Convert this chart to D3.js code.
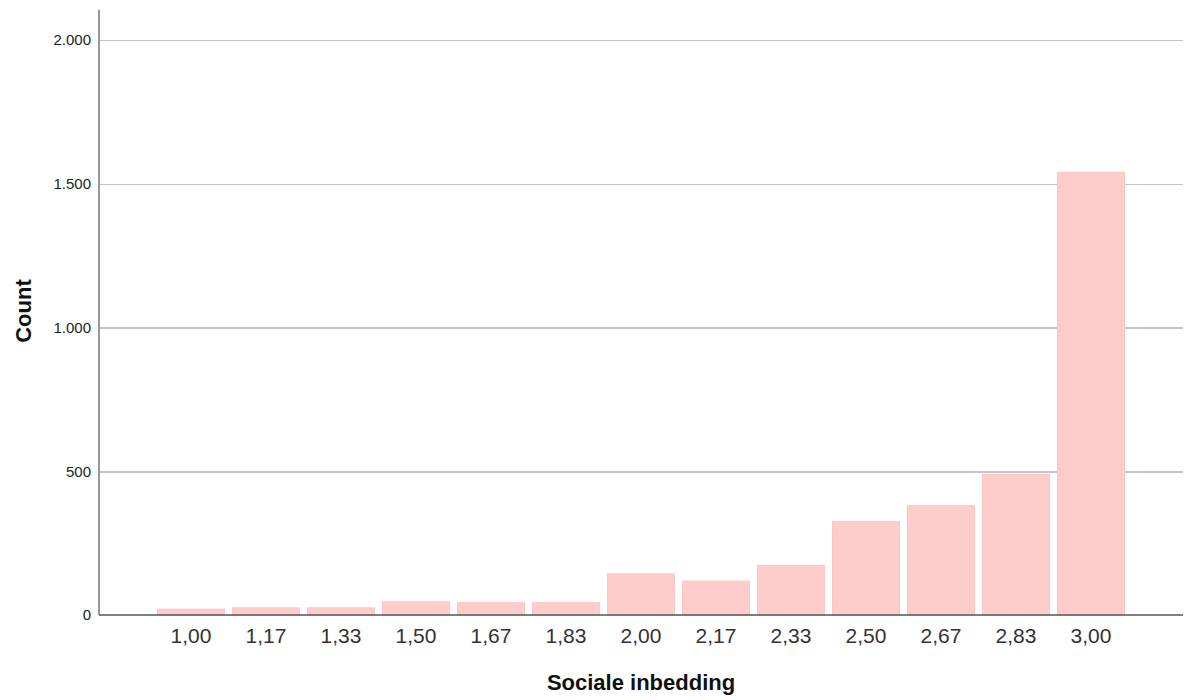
<!DOCTYPE html>
<meta charset="utf-8">
<head>
    <title>Sociale inbedding</title>
    <script src="https://d3js.org/d3.v7.min.js"></script>
</head>
<style>
    body {
        margin: 0;
        background-color: #ffffff;
        font-family: "Liberation Sans", Arial, sans-serif;
    }
    .bar {
        fill: #ffcccc;
        stroke: #ffc4c4;
        stroke-width: 1px;
    }
    .grid line {
        stroke: #c4c4c4;
        stroke-width: 1.5px;
        shape-rendering: crispEdges;
    }
    .grid path {
        display: none;
    }
</style>
<body>
<svg width="1188" height="700"></svg>
<script>
    var categories = ["1,00", "1,17", "1,33", "1,50", "1,67", "1,83", "2,00", "2,17", "2,33", "2,50", "2,67", "2,83", "3,00"];
    var counts = [20, 25, 25, 46, 43, 43, 143, 118, 172, 325, 380, 489, 1540];
    var yTicks = [0, 500, 1000, 1500, 2000];

    var data = categories.map(function(c, i) { return {cat: c, count: counts[i]}; });

    var svg = d3.select("svg"),
        margin = {top: 10, right: 5, bottom: 85, left: 99},
        width = +svg.attr("width") - margin.left - margin.right,
        height = +svg.attr("height") - margin.top - margin.bottom;

    var x = d3.scaleBand()
        .domain(categories)
        .range([0, width])
        .paddingInner(0.107)
        .paddingOuter(0.78);

    // 2000 sits at y=40, 0 at y=615
    var y = d3.scaleLinear()
        .domain([0, 2000])
        .range([height, 30]);

    var g = svg.append("g")
        .attr("transform", "translate(" + margin.left + "," + margin.top + ")");

    // gridlines
    g.append("g")
        .attr("class", "grid")
        .call(d3.axisLeft(y).tickValues(yTicks.slice(1)).tickSize(-width).tickFormat(""));

    g.selectAll(".bar")
        .data(data)
        .enter().append("rect")
        .attr("class", "bar")
        .attr("x", function(d) { return x(d.cat); })
        .attr("width", x.bandwidth())
        .attr("y", function(d) { return y(d.count); })
        .attr("height", function(d) { return height - y(d.count); });

    // y axis
    var fmt = function(d) { return d3.format(",")(d).replace(/,/g, "."); };
    var yAxis = g.append("g")
        .call(d3.axisLeft(y).tickValues(yTicks).tickSize(0).tickPadding(8).tickFormat(fmt));
    yAxis.select(".domain").remove();
    yAxis.selectAll("text")
        .style("font-size", "15px")
        .style("font-family", "Liberation Sans, Arial, sans-serif")
        .attr("fill", "#222");

    g.append("line")
        .attr("x1", 0).attr("x2", 0)
        .attr("y1", 0).attr("y2", height)
        .attr("stroke", "#999")
        .attr("stroke-width", 2);

    // x axis
    var xAxis = g.append("g")
        .attr("transform", "translate(0," + height + ")")
        .call(d3.axisBottom(x).tickSize(0).tickPadding(13));
    xAxis.select(".domain").remove();
    xAxis.selectAll("text")
        .style("font-size", "21px")
        .style("font-family", "Liberation Sans, Arial, sans-serif")
        .attr("fill", "#333");

    g.append("line")
        .attr("x1", 0).attr("x2", width)
        .attr("y1", height).attr("y2", height)
        .attr("stroke", "#555")
        .attr("stroke-width", 1.5);

    svg.append("text")
        .attr("x", 641)
        .attr("y", 690)
        .style("text-anchor", "middle")
        .style("font-size", "22px")
        .style("font-weight", "bold")
        .attr("fill", "#111")
        .text("Sociale inbedding");

    svg.append("text")
        .attr("transform", "translate(31,311) rotate(-90)")
        .style("text-anchor", "middle")
        .style("font-size", "22px")
        .style("font-weight", "bold")
        .attr("fill", "#111")
        .text("Count");
</script>
</body>
